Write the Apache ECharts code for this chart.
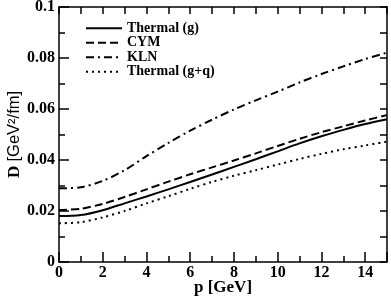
<!DOCTYPE html>
<html><head><meta charset="utf-8">
<script src="https://cdn.jsdelivr.net/npm/echarts@6/dist/echarts.min.js"></script>
<style>html,body{margin:0;padding:0;background:#fff}#c{width:391px;height:297px}</style>
</head><body><div id="c"></div>
<script>
const p = [0,1,2,3,4,5,6,7,8,9,10,11,12,13,14,15];
const thermalG = [0.0180,0.0184,0.0203,0.0230,0.0257,0.0285,0.0314,0.0343,0.0373,0.0403,0.0434,0.0465,0.0493,0.0518,0.0541,0.0560];
const cym      = [0.0204,0.0209,0.0228,0.0255,0.0285,0.0315,0.0344,0.0371,0.0398,0.0426,0.0455,0.0483,0.0509,0.0532,0.0555,0.0576];
const kln      = [0.0289,0.0293,0.0318,0.0360,0.0415,0.0467,0.0515,0.0558,0.0598,0.0634,0.0668,0.0704,0.0737,0.0767,0.0796,0.0821];
const thermalGQ= [0.0152,0.0156,0.0175,0.0200,0.0230,0.0258,0.0287,0.0314,0.0338,0.0360,0.0382,0.0404,0.0424,0.0442,0.0457,0.0472];
const seriesNames = ['Thermal (g)','CYM','KLN','Thermal (g+q)'];
const xTicks = [0,2,4,6,8,10,12,14];
const yTicks = [0,0.02,0.04,0.06,0.08,0.1];

const serif = 'Liberation Serif';
function mk(name, arr, type){
  return {name, type:'line', data:p.map((x,i)=>[x,arr[i]]), smooth:0.3, symbol:'none', showSymbol:false,
    lineStyle:{color:'#000', width:2, type:type}, itemStyle:{color:'#000'}, xAxisIndex:0, yAxisIndex:0};
}
const chart = echarts.init(document.getElementById('c'));
chart.setOption({
  animation:false,
  backgroundColor:'#fff',
  grid:{left:59, right:4, top:7, bottom:35, outerBoundsMode:'none', containLabel:false},
  legend:{left:80, top:16, orient:'vertical', itemWidth:36, itemHeight:12, itemGap:0,
    itemStyle:{opacity:0},
    textStyle:{fontFamily:serif, fontWeight:'bold', fontSize:14, lineHeight:14.5, color:'#000'},
    data:seriesNames },
  xAxis:[{type:'value', min:0, max:15, interval:2, position:'bottom',
    name:'p [GeV]', nameLocation:'middle', nameGap:17, nameMoveOverlap:false,
    nameTextStyle:{fontFamily:serif, fontWeight:'bold', fontSize:17, color:'#000'},
    axisLine:{onZero:false, lineStyle:{color:'#000', width:1.5}},
    axisTick:{inside:true, length:10, lineStyle:{color:'#000', width:1.5}},
    minorTick:{show:true, splitNumber:2, length:6, lineStyle:{color:'#000', width:1.5}},
    splitLine:{show:false},
    axisLabel:{fontFamily:serif, fontWeight:'bold', fontSize:16, color:'#000', margin:3,
      formatter:v=>xTicks.includes(v)?String(v):''}},
   {type:'value', min:0, max:15, interval:1, position:'top',
    axisLine:{onZero:false, lineStyle:{color:'#000', width:1.5}},
    axisTick:{inside:true, length:7, lineStyle:{color:'#000', width:1.5}},
    splitLine:{show:false}, axisLabel:{show:false}}],
  yAxis:[{type:'value', min:0, max:0.1, interval:0.02, position:'left',
    name:'{b|D }{r|[GeV²/fm]}', nameLocation:'middle', nameGap:36, nameMoveOverlap:false,
    nameTextStyle:{color:'#000', rich:{
      b:{fontFamily:serif, fontWeight:'bold', fontSize:17, color:'#000'},
      r:{fontFamily:'Liberation Sans', fontSize:16.5, color:'#000'}}},
    axisLine:{onZero:false, lineStyle:{color:'#000', width:1.5}},
    axisTick:{inside:true, length:10, lineStyle:{color:'#000', width:1.5}},
    minorTick:{show:true, splitNumber:2, length:6, lineStyle:{color:'#000', width:1.5}},
    splitLine:{show:false},
    axisLabel:{fontFamily:serif, fontWeight:'bold', fontSize:16, color:'#000', margin:4,
      formatter:v=>{const t=yTicks.find(y=>Math.abs(y-v)<1e-9); return t===undefined?'':String(+t.toFixed(2));}}},
   {type:'value', min:0, max:0.1, interval:0.01, position:'right',
    axisLine:{onZero:false, lineStyle:{color:'#000', width:1.5}},
    axisTick:{inside:true, length:7, lineStyle:{color:'#000', width:1.5}},
    splitLine:{show:false}, axisLabel:{show:false}}],
  series:[mk(seriesNames[0], thermalG, 'solid'),
          mk(seriesNames[1], cym, [8,4]),
          mk(seriesNames[2], kln, [8,4,2,4]),
          mk(seriesNames[3], thermalGQ, [2,4])]
});
</script></body></html>
